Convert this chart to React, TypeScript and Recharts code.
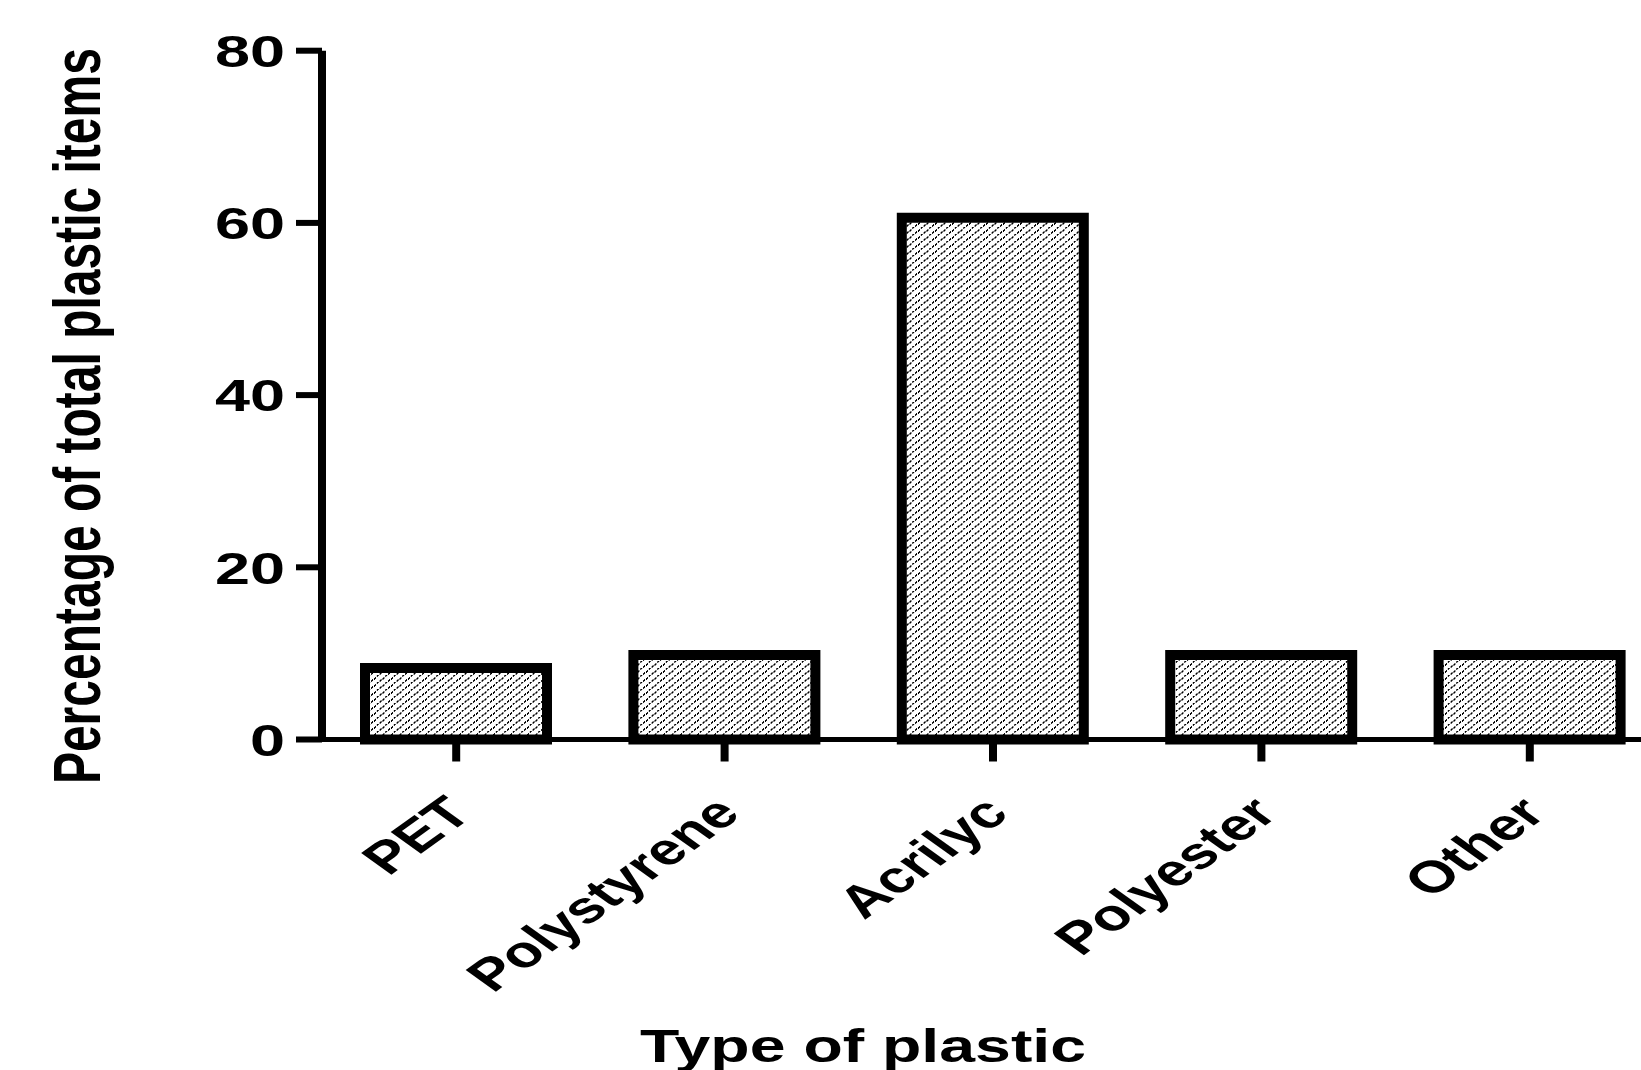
import { Bar, BarChart, Label, XAxis, YAxis } from "recharts";

const plastics = ["PET", "Polystyrene", "Acrilyc", "Polyester", "Other"];
const percentages = [8.3, 9.8, 60.6, 9.8, 9.8];
const yTicks = [0, 20, 40, 60, 80];

const data = plastics.map((name, i) => ({ name, value: percentages[i] }));

const FONT = "'Liberation Sans', Arial, sans-serif";
// glyphs in this figure are drawn wide, so every label gets a horizontal stretch
const STRETCH = 1.4;

function YTick(props: any) {
  const { x, y, payload } = props;
  return (
    <text
      transform={`translate(${x - 9},${y}) scale(${STRETCH},1)`}
      textAnchor="end"
      dy="0.36em"
      fontFamily={FONT}
      fontWeight={700}
      fontSize={45}
      fill="#000"
    >
      {payload.value}
    </text>
  );
}

function XTick(props: any) {
  const { x, y, payload } = props;
  return (
    <text
      transform={`translate(${x + 18},${y + 52}) scale(${STRETCH},1) rotate(-45)`}
      textAnchor="end"
      fontFamily={FONT}
      fontWeight={700}
      fontSize={44.5}
      fill="#000"
    >
      {payload.value}
    </text>
  );
}

function XTitle(props: any) {
  const { x, y } = props.viewBox;
  return (
    <text
      transform={`translate(${x + 541},${y + 322}) scale(${STRETCH},1)`}
      textAnchor="middle"
      fontFamily={FONT}
      fontWeight={700}
      fontSize={46}
      fill="#000"
    >
      Type of plastic
    </text>
  );
}

function YTitle(props: any) {
  const { y, height } = props.viewBox;
  return (
    <text
      transform={`translate(100,${y + height / 2 + 21}) scale(${STRETCH},1) rotate(-90)`}
      textAnchor="middle"
      fontFamily={FONT}
      fontWeight={700}
      fontSize={48}
      fill="#000"
    >
      Percentage of total plastic items
    </text>
  );
}

export default function App() {
  return (
    <div
      style={{
        position: "absolute",
        left: 0,
        top: 0,
        width: 1641,
        height: 1070,
        overflow: "hidden",
        background: "#fff",
      }}
    >
      <BarChart
        width={1674}
        height={1070}
        data={data}
        margin={{ top: 50.7, right: 10, bottom: 0, left: 0 }}
      >
        <defs>
          {/* diagonal hatch, one tile per line step so dashes stay in phase */}
          <pattern id="hatch" patternUnits="userSpaceOnUse" width={8.5} height={7}>
            <rect width={8.5} height={7} fill="#fff" />
            <g stroke="#000" strokeWidth={1.5} strokeDasharray="2.4 1.27" shapeRendering="crispEdges">
              <line x1={-8.5} y1={7} x2={17} y2={-14} />
              <line x1={-8.5} y1={14} x2={17} y2={-7} />
              <line x1={-8.5} y1={21} x2={17} y2={0} />
            </g>
          </pattern>
        </defs>
        <XAxis
          dataKey="name"
          height={330.5}
          interval={0}
          axisLine={{ stroke: "#000", strokeWidth: 5 }}
          tickLine={{ stroke: "#000", strokeWidth: 8 }}
          tickSize={22}
          tick={<XTick />}
        >
          <Label content={<XTitle />} />
        </XAxis>
        <YAxis
          width={322}
          domain={[0, 80]}
          ticks={yTicks}
          axisLine={{ stroke: "#000", strokeWidth: 8 }}
          tickLine={{ stroke: "#000", strokeWidth: 6 }}
          tickSize={26}
          tick={<YTick />}
        >
          <Label content={<YTitle />} />
        </YAxis>
        <Bar
          dataKey="value"
          barSize={182}
          fill="url(#hatch)"
          stroke="#000"
          strokeWidth={10}
          isAnimationActive={false}
        />
      </BarChart>
    </div>
  );
}
